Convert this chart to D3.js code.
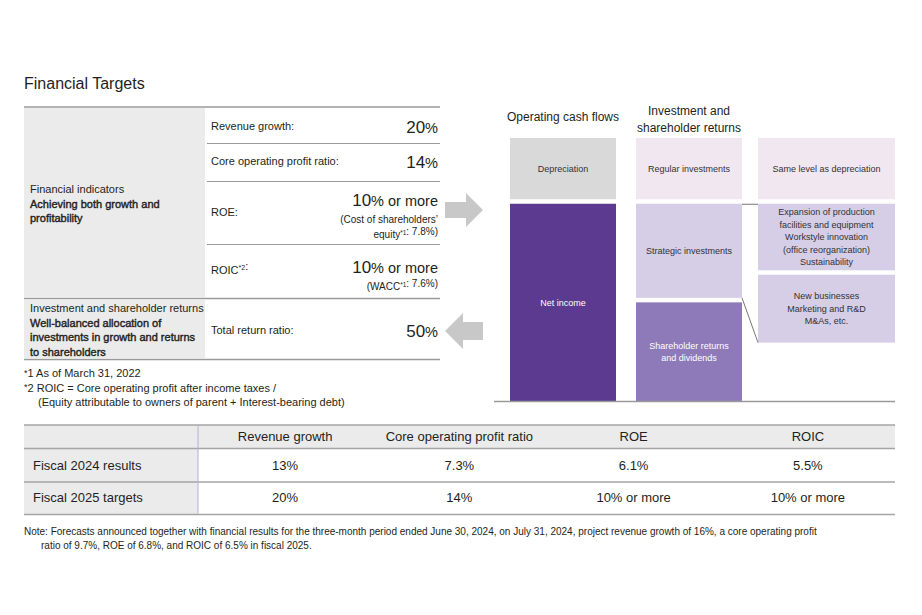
<!DOCTYPE html>
<html><head><meta charset="utf-8">
<script src="https://cdn.jsdelivr.net/npm/d3@7"></script>
<style>body{margin:0;background:#fff}svg{display:block;font-family:"Liberation Sans",Arial,sans-serif}</style>
</head><body><svg id="c" width="922" height="615"></svg>
<script>
// ---------- data ----------
const title = "Financial Targets";
const groupLabels = [
  ["Financial indicators","Achieving both growth and","profitability"],
  ["Investment and shareholder returns","Well-balanced allocation of","investments in growth and returns","to shareholders"]
];
const metricLabels = ["Revenue growth:","Core operating profit ratio:","ROE:","ROIC*2:","Total return ratio:"];
const metricTargets = ["20%","14%","10% or more","10% or more","50%"];
const metricNotes = [[],[],["(Cost of shareholders’","equity*1: 7.8%)"],["(WACC*1: 7.6%)"],[]];
const footnotes = ["*1 As of March 31, 2022","*2 ROIC = Core operating profit after income taxes /","(Equity attributable to owners of parent + Interest-bearing debt)"];

const flowHeaders = [["Operating cash flows"],["Investment and","shareholder returns"]];
const cashFlowLabels = [["Depreciation"],["Net income"]];
const cashFlowValues = [25, 75];
const allocationLabels = [["Regular investments"],["Strategic investments"],["Shareholder returns","and dividends"]];
const allocationValues = [25, 37.5, 37.5];
const detailLabels = [["Same level as depreciation"],["Expansion of production","facilities and equipment","Workstyle innovation","(office reorganization)","Sustainability"],["New businesses","Marketing and R&D","M&As, etc."]];
const detailValues = [25, 27, 27.5];

const tableColumns = ["Revenue growth","Core operating profit ratio","ROE","ROIC"];
const tableRows = ["Fiscal 2024 results","Fiscal 2025 targets"];
const results2024 = ["13%","7.3%","6.1%","5.5%"];
const targets2025 = ["20%","14%","10% or more","10% or more"];
const noteLines = ["Note: Forecasts announced together with financial results for the three-month period ended June 30, 2024, on July 31, 2024, project revenue growth of 16%, a core operating profit","ratio of 9.7%, ROE of 6.8%, and ROIC of 6.5% in fiscal 2025."];

// ---------- drawing ----------
const svg = d3.select("#c");
const ink = "#231f20";

function supText(sel, str, size){
  const parts = str.split(/(\*\d)/);
  parts.forEach(p=>{
    if(/^\*\d$/.test(p)){
      sel.append("tspan").attr("font-size", size*0.65).attr("dy", -size*0.35).text(p);
      sel.append("tspan").attr("dy", size*0.35).text("");
    } else if(p) sel.append("tspan").text(p);
  });
}

svg.append("text").attr("x",24).attr("y",89).attr("font-size",16).attr("fill",ink).text(title);

// left table
const L = {x0:24, x1:440, gx1:205, rx0:207};
const groupBounds = [[108,297],[300,358]];
svg.selectAll("rect.grp").data(groupBounds).join("rect")
  .attr("x",L.x0).attr("y",d=>d[0]).attr("width",L.gx1-L.x0).attr("height",d=>d[1]-d[0]).attr("fill","#ebebeb");
[107,298.5,359.5].forEach(yy=>svg.append("line").attr("x1",L.x0).attr("x2",L.x1).attr("y1",yy).attr("y2",yy).attr("stroke","#9a9a9a").attr("stroke-width",1.5));
[143,181,244].forEach(yy=>svg.append("line").attr("x1",L.rx0).attr("x2",L.x1).attr("y1",yy+0.5).attr("y2",yy+0.5).attr("stroke","#9a9a9a").attr("stroke-width",1));

const groupTextY = [189,308];
groupLabels.forEach((lines,gi)=>{
  const t = svg.append("text").attr("x",30).attr("y",groupTextY[gi]+4).attr("font-size",11).attr("fill",ink);
  lines.forEach((s,i)=>t.append("tspan").attr("x",30).attr("dy",i?14.5:0)
    .attr("stroke",i?ink:null).attr("stroke-width",i?0.4:null).text(s));
});

const labelY = [130,165,216,274,334];
const valueY = [133,168,206,273,337];
metricLabels.forEach((s,i)=>{
  const t = svg.append("text").attr("x",211).attr("y",labelY[i]).attr("font-size",11).attr("fill",ink);
  supText(t,s,11);
  const v = svg.append("text").attr("x",438).attr("y",valueY[i]).attr("text-anchor","end").attr("fill",ink).attr("font-size",17);
  const m = metricTargets[i].match(/^(\d+)(%)(.*)$/);
  v.append("tspan").text(m[1]);
  v.append("tspan").attr("font-size",14.5).text(m[2]+m[3]);
  metricNotes[i].forEach((n,j)=>{
    const nt = svg.append("text").attr("x",438).attr("y",valueY[i]+17+j*15).attr("text-anchor","end").attr("font-size",10).attr("fill",ink);
    supText(nt,n,10);
  });
});

// footnotes
footnotes.forEach((s,i)=>{
  const t = svg.append("text").attr("x",i==2?38:24).attr("y",377+i*14.5).attr("font-size",11).attr("fill",ink);
  const m = s.match(/^(\*)(\d)(.*)$/);
  if(m){
    t.append("tspan").attr("font-size",9).attr("dy",-1.5).text(m[1]);
    t.append("tspan").attr("dy",1.5).text(m[2]+m[3]);
  } else t.text(s);
});

// arrows
const arrow = d3.line();
svg.append("path").attr("fill","#c8c8c8")
  .attr("d",arrow([[445,202],[466,202],[466,193],[483,210],[466,227],[466,218],[445,218]])+"Z");
svg.append("path").attr("fill","#c8c8c8")
  .attr("d",arrow([[483,322],[463,322],[463,313],[445,331],[463,349],[463,340],[483,340]])+"Z");

// cash flow diagram
const y = d3.scaleLinear().domain([0,100]).range([401,138]);
const gap = 4.5;
function stackDown(vals){
  let acc=100; return vals.map(v=>{const d={y1:acc,y0:acc-v}; acc-=v; return d;});
}
const cfStack = stackDown(cashFlowValues);
const alStack = stackDown(allocationValues);
const dtStack = stackDown(detailValues);

const cols = [
  {x:510,w:106,stack:cfStack,labels:cashFlowLabels,fills:["#d9d9d9","#5b3a8f"],txt:["#333","#fff"]},
  {x:636,w:106,stack:alStack,labels:allocationLabels,fills:["#f1e7f1","#d6cde6","#8e7ab8"],txt:["#333","#333","#fff"]},
  {x:758,w:137,stack:dtStack,labels:detailLabels,fills:["#f1e7f1","#d6cde6","#d6cde6"],txt:["#333","#333","#333"]}
];
cols.forEach(c=>{
  c.stack.forEach((d,i)=>{
    const top = y(d.y1);
    const bot = y(d.y0) - (d.y0>0.01?gap:0);
    d.top=top; d.bot=bot;
    svg.append("rect").attr("x",c.x).attr("y",top).attr("width",c.w).attr("height",bot-top).attr("fill",c.fills[i]);
    const lines = c.labels[i];
    const cy = (top+bot)/2 - (lines.length-1)*12.5/2;
    const t = svg.append("text").attr("text-anchor","middle").attr("font-size",9).attr("fill",c.txt[i]);
    lines.forEach((s,j)=>t.append("tspan").attr("x",c.x+c.w/2).attr("y",cy+3.2+j*12.5).text(s));
  });
});
svg.append("line").attr("x1",494).attr("x2",895).attr("y1",401.5).attr("y2",401.5).attr("stroke","#9a9a9a").attr("stroke-width",1.5);
// bracket
const sBot = alStack[1].bot;
const eTop = dtStack[1].top, nBot = dtStack[2].bot;
svg.append("line").attr("x1",742).attr("x2",758).attr("y1",eTop+0.5).attr("y2",eTop+0.5).attr("stroke","#777").attr("stroke-width",1);
svg.append("line").attr("x1",742).attr("x2",758).attr("y1",sBot).attr("y2",nBot).attr("stroke","#777").attr("stroke-width",1);

// headers
const hx = [563,689];
flowHeaders.forEach((lines,i)=>{
  const t = svg.append("text").attr("text-anchor","middle").attr("font-size",12).attr("fill",ink);
  lines.forEach((s,j)=>t.append("tspan").attr("x",hx[i]).attr("y",(i?115:121)+j*16.5).text(s));
});

// bottom table
const T = {x0:24, x1:895, cx:198, top:425, hb:448.5, r1:482, r2:514.5};
const xb = d3.scaleBand().domain(tableColumns).range([T.cx,T.x1]);
svg.append("rect").attr("x",T.x0).attr("y",T.top).attr("width",T.x1-T.x0).attr("height",T.hb-T.top).attr("fill","#ebebeb");
svg.append("rect").attr("x",T.x0).attr("y",T.hb).attr("width",T.cx-T.x0).attr("height",T.r2-T.hb).attr("fill","#ebebeb");
[T.top,T.hb,T.r1,T.r2].forEach(yy=>svg.append("line").attr("x1",T.x0).attr("x2",T.x1).attr("y1",yy).attr("y2",yy).attr("stroke","#a5a5a5").attr("stroke-width",1.5));
svg.append("line").attr("x1",T.cx).attr("x2",T.cx).attr("y1",T.top+0.75).attr("y2",T.r2-0.75).attr("stroke","#b9aed6").attr("stroke-width",1);
svg.selectAll("text.hdr").data(tableColumns).join("text").attr("class","hdr")
  .attr("x",d=>xb(d)+xb.bandwidth()/2).attr("y",441).attr("text-anchor","middle").attr("font-size",13).attr("fill",ink).text(d=>d);
const rowY = [470,502];
[results2024,targets2025].forEach((vals,ri)=>{
  svg.append("text").attr("x",33).attr("y",rowY[ri]).attr("font-size",13).attr("fill",ink).text(tableRows[ri]);
  vals.forEach((v,ci)=>svg.append("text").attr("x",xb(tableColumns[ci])+xb.bandwidth()/2).attr("y",rowY[ri])
    .attr("text-anchor","middle").attr("font-size",13).attr("fill",ink).text(v));
});
noteLines.forEach((s,i)=>svg.append("text").attr("x",i?41:24).attr("y",535+i*14).attr("font-size",10).attr("fill",ink).text(s));
</script></body></html>
